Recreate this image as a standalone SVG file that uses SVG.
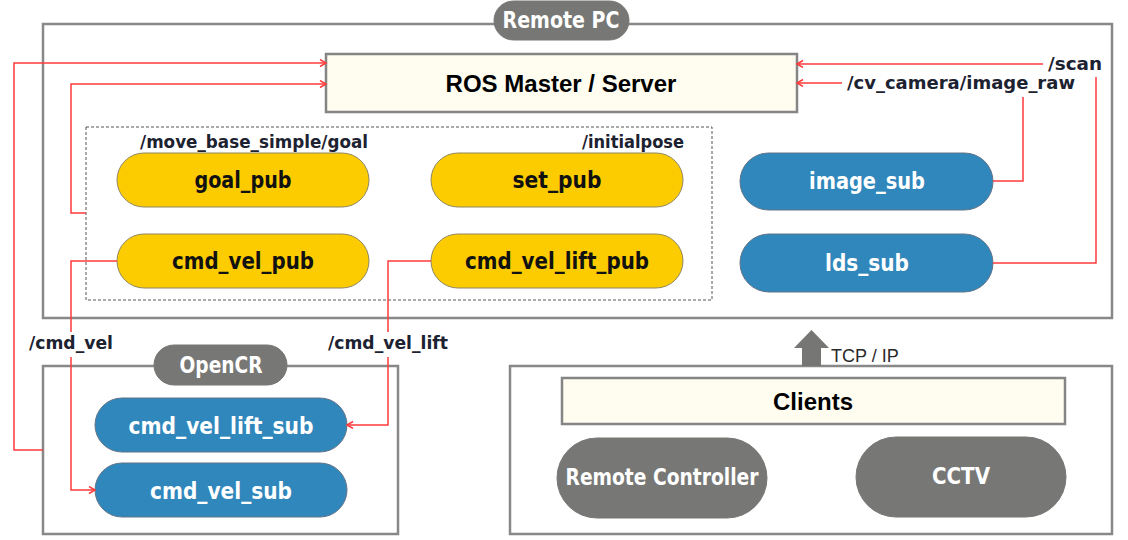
<svg xmlns="http://www.w3.org/2000/svg" width="1128" height="540" viewBox="0 0 1128 540">
<style>
.box{fill:#fff;stroke:#888;stroke-width:2.5}
.cream{fill:#FFFDF0;stroke:#858585;stroke-width:2.5}
.dash{fill:none;stroke:#555;stroke-width:1;stroke-dasharray:3,2}
.yel{fill:#FCCC00;stroke:#8f8760;stroke-width:1}
.blu{fill:#3087BB;stroke:#617487;stroke-width:1}
.gry{fill:#777875;stroke:#777875;stroke-width:1}
.nt{font-family:"DejaVu Sans",sans-serif;font-weight:bold;font-size:23px;text-anchor:middle}
.dk{fill:#111}
.wt{fill:#fff}
.lb{font-family:"DejaVu Sans",sans-serif;font-weight:bold;font-size:17px;fill:#1c2230}
.big{font-family:"Liberation Sans",Arial,sans-serif;font-weight:bold;font-size:24px;fill:#000;text-anchor:middle}
.tcp{font-family:"Liberation Sans",Arial,sans-serif;font-size:18px;fill:#2a2a2a}
.ln{fill:none;stroke:#FF3B3B;stroke-width:1.5}
</style>
<defs>
<marker id="ah" markerUnits="userSpaceOnUse" markerWidth="10" markerHeight="10" refX="7" refY="4" orient="auto">
<path d="M1,0.5 L7,4 L1,7.5" fill="none" stroke="#FF3B3B" stroke-width="1.5"/>
</marker>
</defs>

<g id="remote-pc">
<rect class="box" x="43" y="24" width="1069" height="294"/>
<rect class="gry" x="494" y="1" width="135" height="39" rx="19.5"/>
<text class="nt wt" x="561" y="28" textLength="117" lengthAdjust="spacingAndGlyphs">Remote PC</text>
</g>

<g id="ros-master">
<rect class="cream" x="326" y="54" width="471" height="58"/>
<text class="big" x="561" y="92">ROS Master / Server</text>
</g>

<g id="pub-group">
<rect class="dash" x="86" y="127" width="626" height="173"/>
<text class="lb" x="140" y="148" textLength="228" lengthAdjust="spacingAndGlyphs">/move_base_simple/goal</text>
<text class="lb" x="582" y="148" textLength="102" lengthAdjust="spacingAndGlyphs">/initialpose</text>
</g>

<g id="goal_pub">
<rect class="yel" x="117" y="153" width="252" height="54" rx="27"/>
<text class="nt dk" x="243" y="188" textLength="97" lengthAdjust="spacingAndGlyphs">goal_pub</text>
</g>
<g id="set_pub">
<rect class="yel" x="431" y="153" width="252" height="54" rx="27"/>
<text class="nt dk" x="557" y="188" textLength="89" lengthAdjust="spacingAndGlyphs">set_pub</text>
</g>
<g id="cmd_vel_pub">
<rect class="yel" x="117" y="234" width="252" height="54" rx="27"/>
<text class="nt dk" x="243" y="269" textLength="142" lengthAdjust="spacingAndGlyphs">cmd_vel_pub</text>
</g>
<g id="cmd_vel_lift_pub">
<rect class="yel" x="431" y="234" width="252" height="54" rx="27"/>
<text class="nt dk" x="557" y="269" textLength="184" lengthAdjust="spacingAndGlyphs">cmd_vel_lift_pub</text>
</g>

<g id="image_sub">
<rect class="blu" x="740" y="153" width="253" height="57" rx="28.5"/>
<text class="nt wt" x="867" y="189" textLength="116" lengthAdjust="spacingAndGlyphs">image_sub</text>
</g>
<g id="lds_sub">
<rect class="blu" x="740" y="234" width="253" height="58" rx="29"/>
<text class="nt wt" x="867" y="271" textLength="84" lengthAdjust="spacingAndGlyphs">lds_sub</text>
</g>

<g id="opencr">
<rect class="box" x="43" y="366" width="355" height="168"/>
<rect class="gry" x="154" y="345" width="133" height="40" rx="20"/>
<text class="nt wt" x="221" y="373" textLength="83" lengthAdjust="spacingAndGlyphs">OpenCR</text>
</g>
<g id="cmd_vel_lift_sub">
<rect class="blu" x="95" y="398" width="252" height="54" rx="27"/>
<text class="nt wt" x="221" y="434" textLength="185" lengthAdjust="spacingAndGlyphs">cmd_vel_lift_sub</text>
</g>
<g id="cmd_vel_sub">
<rect class="blu" x="95" y="463" width="252" height="54" rx="27"/>
<text class="nt wt" x="221" y="499" textLength="142" lengthAdjust="spacingAndGlyphs">cmd_vel_sub</text>
</g>

<g id="clients-group">
<rect class="box" x="510" y="366" width="602" height="168"/>
</g>
<g id="clients">
<rect class="cream" x="562" y="378" width="503" height="46"/>
<text class="big" x="813" y="410">Clients</text>
</g>
<g id="remote-controller">
<rect class="gry" x="557" y="438" width="210" height="80" rx="40"/>
<text class="nt wt" x="662" y="485" textLength="193" lengthAdjust="spacingAndGlyphs">Remote Controller</text>
</g>
<g id="cctv">
<rect class="gry" x="856" y="437" width="210" height="80" rx="40"/>
<text class="nt wt" x="961" y="484" textLength="58" lengthAdjust="spacingAndGlyphs">CCTV</text>
</g>

<g id="connectors">
<path class="ln" marker-end="url(#ah)" d="M43,450 H14 V63 H326"/>
<path class="ln" marker-end="url(#ah)" d="M86,213 H71 V84 H326"/>
<path class="ln" d="M117,261 H71 V332"/>
<path class="ln" marker-end="url(#ah)" d="M71,357 V490 H95"/>
<text class="lb" x="29" y="349" textLength="84" lengthAdjust="spacingAndGlyphs">/cmd_vel</text>
<path class="ln" d="M431,261 H388 V332"/>
<path class="ln" marker-end="url(#ah)" d="M388,357 V425 H347"/>
<text class="lb" x="328" y="349" textLength="120" lengthAdjust="spacingAndGlyphs">/cmd_vel_lift</text>
<path class="ln" d="M993,263 H1096 V77"/>
<path class="ln" marker-end="url(#ah)" d="M1043,64 H797"/>
<text class="lb" x="1048" y="70" textLength="54" lengthAdjust="spacingAndGlyphs">/scan</text>
<path class="ln" d="M993,181 H1023 V97"/>
<path class="ln" marker-end="url(#ah)" d="M842,83 H797"/>
<text class="lb" x="847" y="89" textLength="228" lengthAdjust="spacingAndGlyphs">/cv_camera/image_raw</text>
<path d="M794,348 L811.5,330 L829,348 L821,348 L821,366 L802,366 L802,348 Z" fill="#767775"/>
<text class="tcp" x="831" y="362">TCP / IP</text>
</g>
</svg>
